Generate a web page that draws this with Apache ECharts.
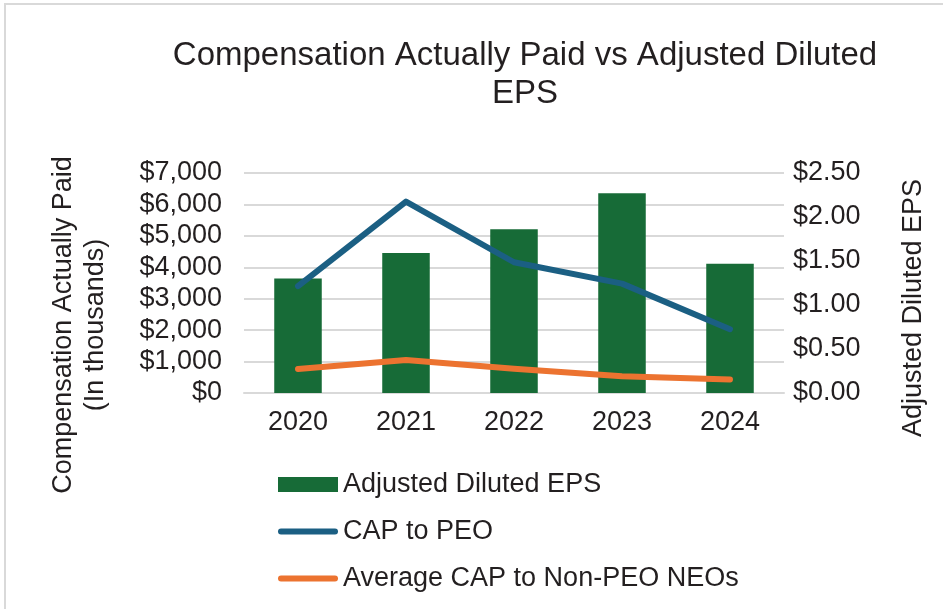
<!DOCTYPE html>
<html>
<head>
<meta charset="utf-8">
<script src="https://cdn.jsdelivr.net/npm/echarts@6/dist/echarts.min.js"></script>
<style>
  html, body { margin: 0; padding: 0; background: #fff; }
  #chart { width: 943px; height: 609px; }
</style>
</head>
<body>
<div id="chart"></div>
<script>
// values
const years = ['2020', '2021', '2022', '2023', '2024'];
const epsValues = [1.30, 1.59, 1.86, 2.27, 1.47];          // $ per share
const capPeo = [3400, 6090, 4160, 3480, 2030];             // $ thousands
const capNonPeo = [760, 1050, 770, 530, 430];              // $ thousands

const font = "'Liberation Sans', Arial, sans-serif";
const ink = '#231f20';
// flat rounded stroke used as legend icon for the two lines
const lineIcon = 'path://M3,0 H57 A3,3 0 0 1 57,6 H3 A3,3 0 0 1 3,0 Z';

const chart = echarts.init(document.getElementById('chart'), null, { renderer: 'canvas' });

chart.setOption({
    animation: false,
    backgroundColor: '#fff',
    textStyle: { fontFamily: font, color: ink },
    title: {
        text: 'Compensation Actually Paid vs Adjusted Diluted\nEPS',
        left: 520,
        top: 32,
        textAlign: 'center',
        textStyle: {
            fontFamily: font, fontSize: 33, fontWeight: 'normal', color: ink,
            lineHeight: 38, align: 'center'
        }
    },
    graphic: [{
        type: 'rect',
        shape: { x: 5, y: 4, width: 960, height: 640 },
        style: { fill: 'none', stroke: '#d9d9d9', lineWidth: 2 },
        silent: true
    }],
    legend: {
        orient: 'vertical',
        left: 273,
        top: 466,
        itemWidth: 60,
        itemHeight: 15,
        itemGap: 20,
        textStyle: { fontFamily: font, fontSize: 27, color: ink },
        data: [
            { name: 'Adjusted Diluted EPS', icon: 'rect' },
            { name: 'CAP to PEO', icon: lineIcon },
            { name: 'Average CAP to Non-PEO NEOs', icon: lineIcon }
        ]
    },
    grid: { left: 244, right: 159, top: 173, bottom: 216, containLabel: false },
    xAxis: {
        type: 'category',
        data: years,
        axisTick: { show: false },
        axisLine: { lineStyle: { color: '#d9d9d9', width: 2 } },
        axisLabel: { fontFamily: font, fontSize: 27, color: ink, margin: 16 }
    },
    yAxis: [{
        type: 'value',
        min: 0, max: 7000, interval: 1000,
        name: 'Compensation Actually Paid\n(In thousands)',
        nameLocation: 'middle',
        nameRotate: 90,
        nameGap: 132,
        nameTextStyle: {
            fontFamily: font, fontSize: 27, color: ink, lineHeight: 32,
            align: 'center', padding: [0, 84, 0, 0]
        },
        axisLine: { show: false },
        axisTick: { show: false },
        splitLine: { lineStyle: { color: '#d9d9d9', width: 2 } },
        axisLabel: {
            fontFamily: font, fontSize: 27, color: ink, margin: 22,
            formatter: v => '$' + v.toLocaleString('en-US')
        }
    }, {
        type: 'value',
        min: 0, max: 2.5, interval: 0.5,
        position: 'right',
        name: 'Adjusted Diluted EPS',
        nameLocation: 'middle',
        nameRotate: 90,
        nameGap: 116,
        nameTextStyle: {
            fontFamily: font, fontSize: 27, color: ink,
            padding: [0, 50, 0, 0]
        },
        axisLine: { show: false },
        axisTick: { show: false },
        splitLine: { show: false },
        axisLabel: {
            fontFamily: font, fontSize: 27, color: ink, margin: 9,
            formatter: v => '$' + v.toFixed(2)
        }
    }],
    series: [{
        name: 'Adjusted Diluted EPS',
        type: 'bar',
        yAxisIndex: 1,
        data: epsValues,
        barWidth: '44%',
        itemStyle: { color: '#176b37' }
    }, {
        name: 'CAP to PEO',
        type: 'line',
        yAxisIndex: 0,
        data: capPeo,
        symbol: 'none',
        lineStyle: { color: '#1b5f83', width: 6, cap: 'round', join: 'round' },
        itemStyle: { color: '#1b5f83' }
    }, {
        name: 'Average CAP to Non-PEO NEOs',
        type: 'line',
        yAxisIndex: 0,
        data: capNonPeo,
        symbol: 'none',
        lineStyle: { color: '#ec7330', width: 6, cap: 'round', join: 'round' },
        itemStyle: { color: '#ec7330' }
    }]
});
</script>
</body>
</html>
